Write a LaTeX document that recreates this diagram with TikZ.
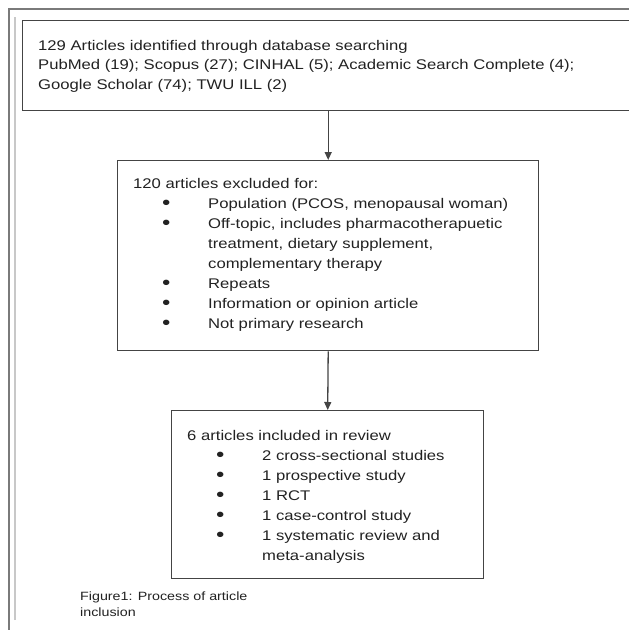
\documentclass[tikz,border=0pt]{standalone}
\usepackage{fontspec}
\usetikzlibrary{arrows.meta}
\newfontfamily\dfont[FakeStretch=1.19]{Liberation Sans}
\definecolor{txt}{HTML}{222222}
\definecolor{boxline}{HTML}{444444}
\definecolor{framedark}{HTML}{7A7A7A}
\definecolor{framelight}{HTML}{C8C8C8}
\newcommand{\bigbul}{\raisebox{-1.2pt}{\fontsize{20}{20}\selectfont\textbullet}}
\newcommand{\bitem}[1]{\makebox[75pt][l]{\hspace*{29pt}\bigbul}#1}
\newcommand{\bcont}[1]{\hspace*{75pt}#1}
\tikzset{
  box/.style={draw=boxline, line width=1.4pt, rectangle, inner sep=0pt, anchor=north west},
  txtnode/.style={anchor=north west, inner sep=0pt, align=left, text=txt},
  arr/.style={draw=boxline, line width=1.3pt, -{Triangle[length=8pt,width=7pt]}},
  frameA/.style={draw=framedark, line width=1.2pt},
  frameB/.style={draw=framelight, line width=1.2pt}
}
\begin{document}
\begin{tikzpicture}[x=1pt,y=-1pt]
\useasboundingbox (0,0) rectangle (629,630);
\clip (0,0) rectangle (629,630);
\fill[white] (0,0) rectangle (629,630);
% page frame
\draw[frameA] (9,632) -- (9,9) -- (640,9);
\draw[frameB] (15,620) -- (15,17);
% boxes
\node[box, minimum width=660pt, minimum height=90pt] (top) at (22,20) {};
\node[box, minimum width=421pt, minimum height=190pt] (mid) at (117,160) {};
\node[box, minimum width=312pt, minimum height=168pt] (bot) at (171,410) {};
% texts
\node[txtnode, font=\dfont\fontsize{14}{19.5}\selectfont] (toptxt) at (38,40)
 {129 Articles identified through database searching\\
  PubMed (19); Scopus (27); CINHAL (5); Academic Search Complete (4);\\
  Google Scholar (74); TWU ILL (2)};
\node[txtnode, font=\dfont\fontsize{14}{20}\selectfont] (midtxt) at (133,178)
 {120 articles excluded for:\\
  \bitem{Population (PCOS, menopausal woman)}\\
  \bitem{Off-topic, includes pharmacotherapuetic}\\
  \bcont{treatment, dietary supplement,}\\
  \bcont{complementary therapy}\\
  \bitem{Repeats}\\
  \bitem{Information or opinion article}\\
  \bitem{Not primary research}};
\node[txtnode, font=\dfont\fontsize{14}{20}\selectfont] (bottxt) at (187,430)
 {6 articles included in review\\
  \bitem{2 cross-sectional studies}\\
  \bitem{1 prospective study}\\
  \bitem{1 RCT}\\
  \bitem{1 case-control study}\\
  \bitem{1 systematic review and}\\
  \bcont{meta-analysis}};
\node[txtnode, font=\dfont\fontsize{12}{16}\selectfont] (caption) at (80,592)
 {Figure1: Process of article\\inclusion};
% connectors
\draw[arr] (top.south -| mid.north) -- (mid.north);
\draw[arr] (mid.south) -- (bot.north);
\end{tikzpicture}
\end{document}
